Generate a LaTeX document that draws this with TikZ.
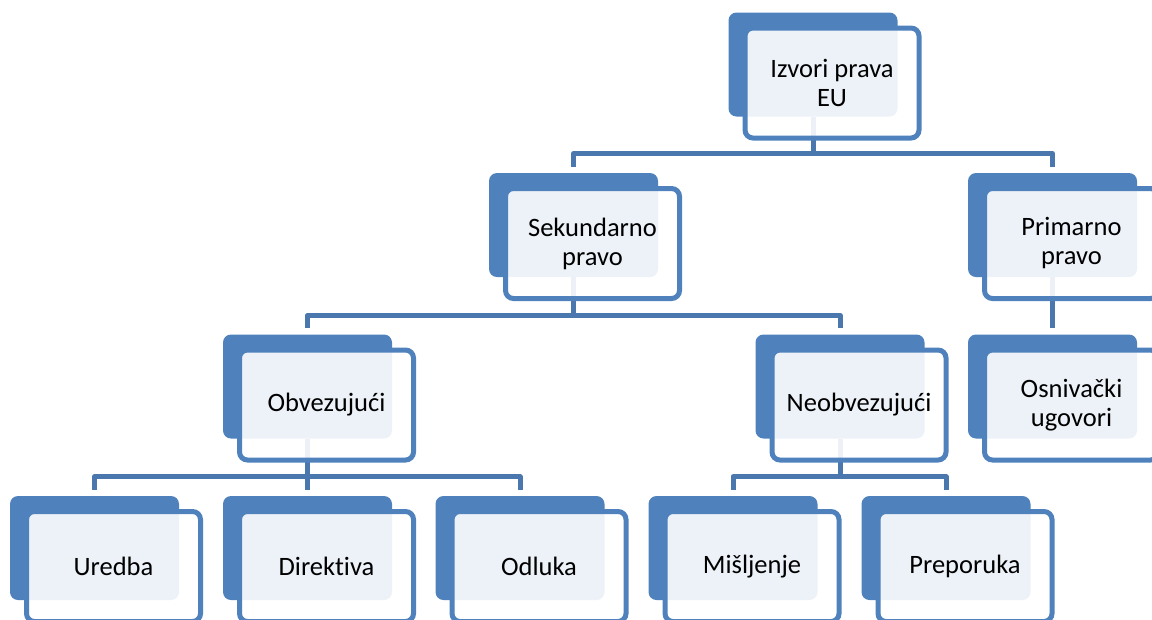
\documentclass[tikz,border=0pt]{standalone}
\usepackage{fontspec}
\setmainfont[Ligatures=NoCommon]{Carlito}
\usetikzlibrary{positioning,backgrounds,calc}
\definecolor{backblue}{HTML}{4F81BD}
\definecolor{lineblue}{HTML}{4A77AE}

\begin{document}
\begin{tikzpicture}[x=0.75pt,y=-0.75pt]
\tikzstyle{back} = [rectangle, rounded corners=6pt, fill=backblue, inner sep=0pt,
                    minimum width=126.75pt, minimum height=78pt]
\tikzstyle{box}  = [rectangle, rounded corners=6pt, draw=backblue, line width=3.75pt,
                    fill=white, fill opacity=0.9, text opacity=1, inner sep=0pt,
                    minimum width=130.5pt, minimum height=82.5pt, align=center,
                    font=\fontsize{19.9}{21.75}\selectfont]
\tikzstyle{link} = [draw=lineblue, line width=3.75pt, line join=round]

\useasboundingbox (0,0) rectangle (1152,619);
\clip (0,0) rectangle (1152,619);

% level 1
\node[back] (izvoriB) at (813,64.5) {};
\node[box]  (izvori)  at ([shift={(19,18.5)}]izvoriB) {Izvori prava\\EU};

% level 2
\node[back] (sekB)  at (573.5,225) {};
\node[box]  (sek)   at ([shift={(19,18.5)}]sekB) {Sekundarno\\pravo};
\node[back] (primB) at (1052.5,225) {};
\node[box]  (prim)  at ([shift={(19,18.5)}]primB) {Primarno\\pravo};

% level 3
\node[back] (obvB) at (307.5,386.5) {};
\node[box]  (obv)  at ([shift={(19,18.5)}]obvB) {Obvezujući};
\node[back] (neoB) at (840,386.5) {};
\node[box]  (neo)  at ([shift={(19,18.5)}]neoB) {Neobvezujući};
\node[back] (osnB) at (1052.5,386.5) {};
\node[box]  (osn)  at ([shift={(19,18.5)}]osnB) {Osnivački\\ugovori};

% level 4
\node[back] (uredB) at (94.5,548) {};
\node[box]  (ured)  at ([shift={(19,18.5)}]uredB) {Uredba};
\node[back] (dirB)  at (307.5,548) {};
\node[box]  (dir)   at ([shift={(19,18.5)}]dirB) {Direktiva};
\node[back] (odlB)  at (520,548) {};
\node[box]  (odl)   at ([shift={(19,18.5)}]odlB) {Odluka};
\node[back] (misB)  at (733,548) {};
\node[box]  (mis)   at ([shift={(19,18.5)}]misB) {Mišljenje};
\node[back] (prepB) at (946,548) {};
\node[box]  (prep)  at ([shift={(19,18.5)}]prepB) {Preporuka};

\begin{scope}[on background layer]
\draw[link] (sekB.north)  ++(0,-6) -- ++(0,-13) -| (izvoriB);
\draw[link] (primB.north) ++(0,-6) -- ++(0,-13) -| (izvoriB);
\draw[link] (obvB.north)  ++(0,-6) -- ++(0,-13) -| (sekB);
\draw[link] (neoB.north)  ++(0,-6) -- ++(0,-13) -| (sekB);
\draw[link] (osnB.north)  ++(0,-6) -- ++(0,-13) -| (primB);
\draw[link] (uredB.north) ++(0,-6) -- ++(0,-13) -| (obvB);
\draw[link] (dirB.north)  ++(0,-6) -- ++(0,-13) -| (obvB);
\draw[link] (odlB.north)  ++(0,-6) -- ++(0,-13) -| (obvB);
\draw[link] (misB.north)  ++(0,-6) -- ++(0,-13) -| (neoB);
\draw[link] (prepB.north) ++(0,-6) -- ++(0,-13) -| (neoB);
\end{scope}
\end{tikzpicture}
\end{document}
